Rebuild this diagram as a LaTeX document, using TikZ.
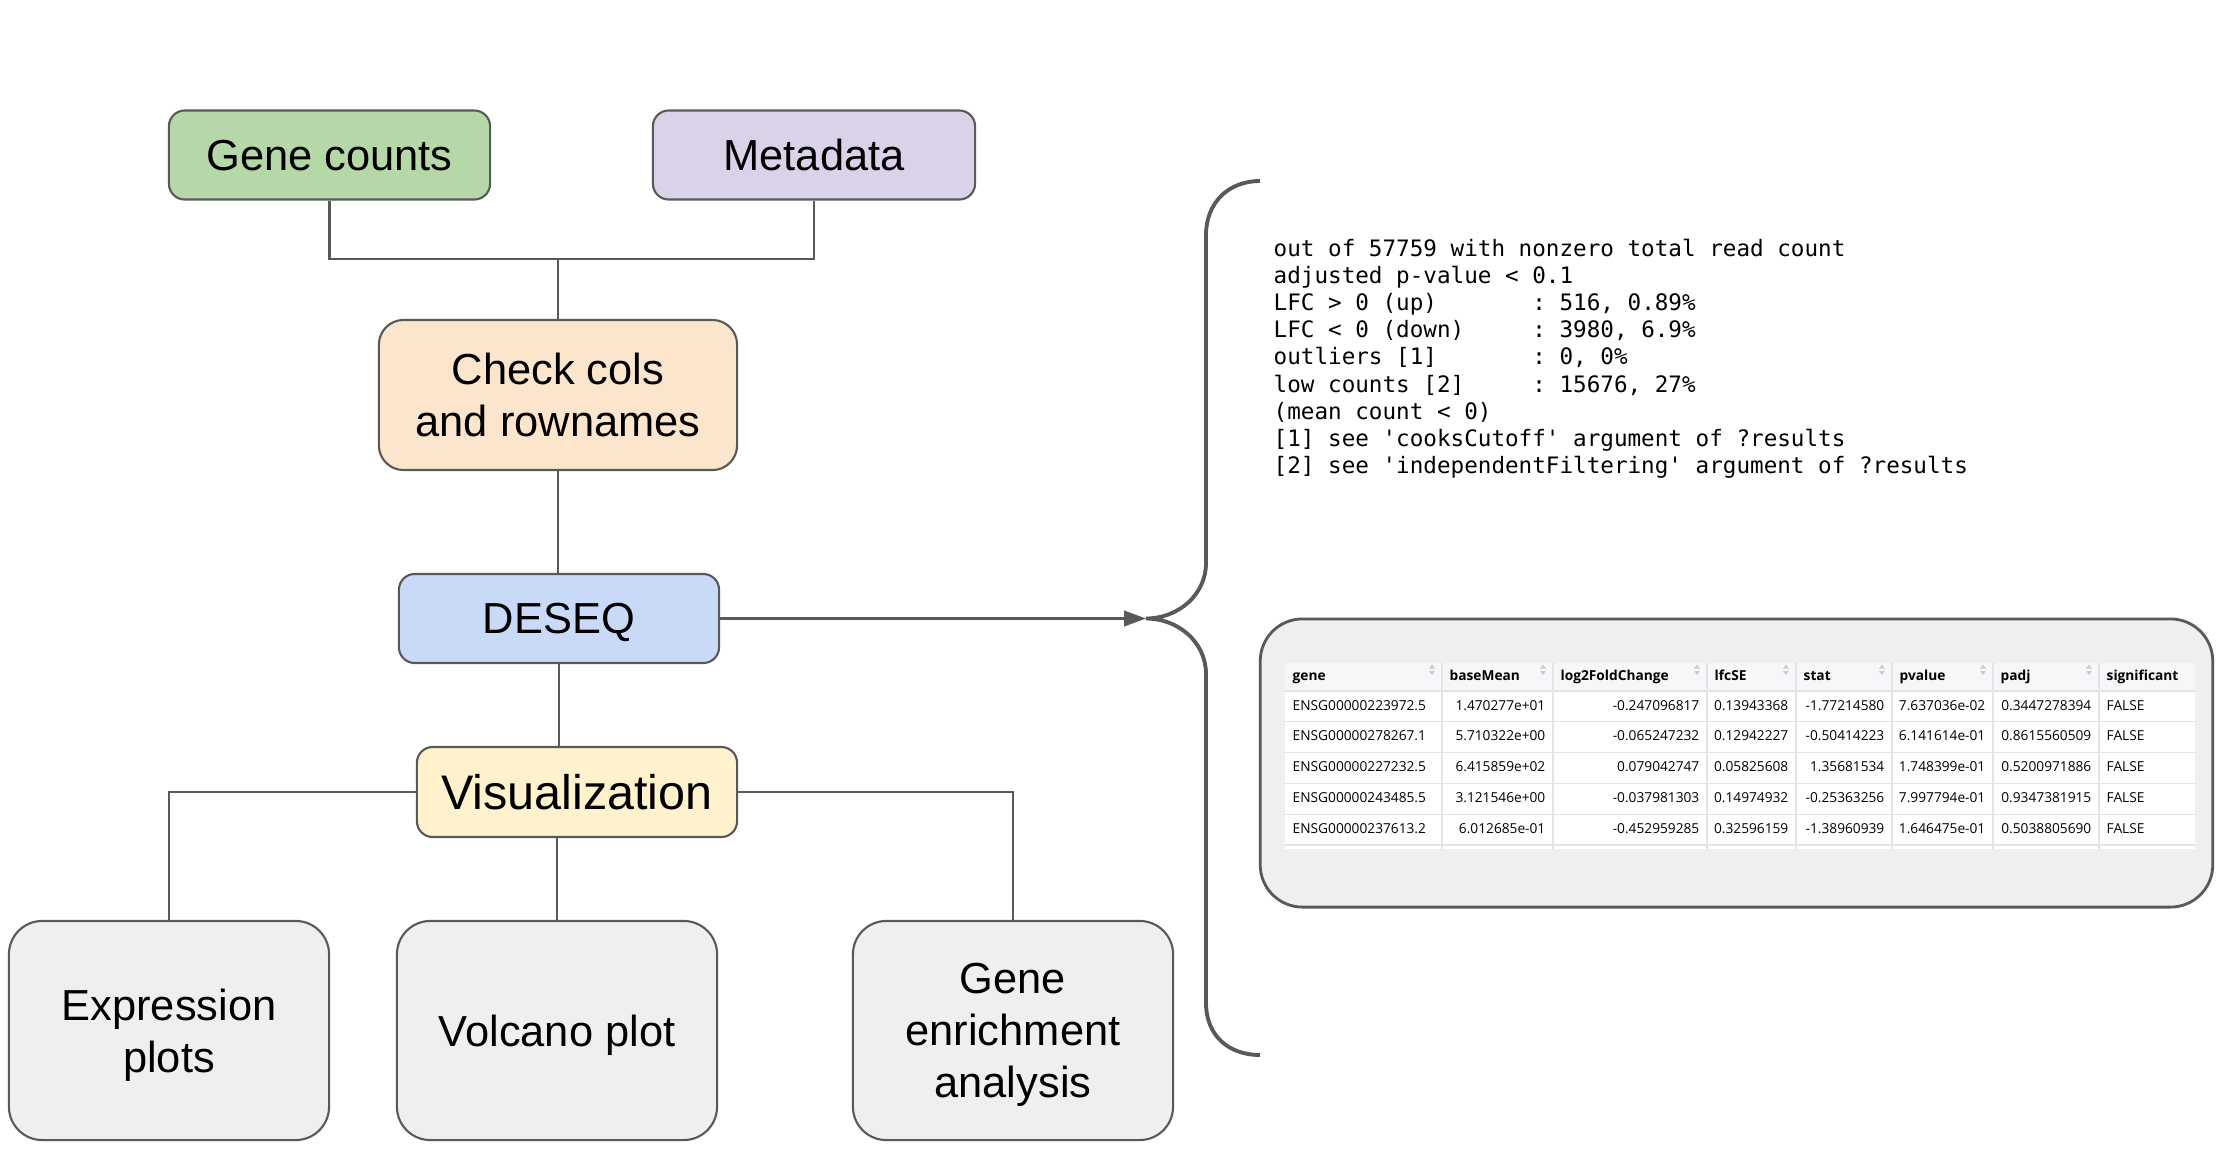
\documentclass[tikz,border=0pt]{standalone}
\usepackage{fontspec}
\setmainfont{Liberation Sans}
\setmonofont{DejaVu Sans Mono}
\newfontfamily\tablefont{Open Sans}
\usetikzlibrary{arrows.meta}

\definecolor{linegray}{HTML}{595959}
\definecolor{fillgreen}{HTML}{B6D7A8}
\definecolor{fillpurple}{HTML}{D9D2E9}
\definecolor{fillorange}{HTML}{FCE5CD}
\definecolor{fillblue}{HTML}{C9DAF8}
\definecolor{fillyellow}{HTML}{FFF2CC}
\definecolor{fillgray}{HTML}{EFEFEF}
\definecolor{gridgray}{HTML}{E2E4E7}
\definecolor{headgray}{HTML}{F6F7F9}
\definecolor{sortgray}{HTML}{C9CCD1}

\begin{document}
\begin{tikzpicture}[x=0.01cm, y=-0.01cm]
  % -----------------------------
  % SETTINGS (pixel grid, y down)
  % -----------------------------
  \def\pad{7}       % cell padding
  \def\rowh{30.8}   % table row height
  \def\tabtop{663}
  \def\headbot{691}
  \def\tabbot{849}
  \def\colL{{1285,1442,1553,1707,1796,1892,1993,2099}}
  \def\colR{{1442,1553,1707,1796,1892,1993,2099,2195}}

  % -----------------------------
  % STYLES
  % -----------------------------
  \tikzset{
    box/.style={draw=linegray, line width=0.6pt, rounded corners=4.5pt, align=center,
      inner sep=0pt, minimum width=3.2cm, minimum height=0.89cm, text depth=0pt,
      font=\fontsize{12.35}{14.8}\selectfont},
    bigbox/.style={box, rounded corners=9.5pt, minimum height=2.19cm},
    conn/.style={draw=linegray, line width=0.6pt},
    brace/.style={draw=linegray, line width=1.1pt},
    summ/.style={font=\ttfamily\frenchspacing\fontsize{6.43}{7.74}\selectfont,
      align=left, inner sep=0pt},
    cell/.style={font=\tablefont\fontsize{3.9}{4.6}\selectfont, inner sep=0pt,
      text height=2.9pt, text depth=0.8pt},
    head/.style={cell, font=\tablefont\bfseries\fontsize{3.9}{4.6}\selectfont},
    grid/.style={draw=gridgray, line width=0.35pt},
  }

  \useasboundingbox (0,0) rectangle (2232,1166);

  % -----------------------------
  % FLOW BOXES
  % -----------------------------
  \node[box, fill=fillgreen, minimum width=3.21cm] (genecounts) at (329.5,155) {Gene counts};
  \node[box, fill=fillpurple, minimum width=3.22cm] (metadata) at (814,155) {Metadata};
  \node[box, fill=fillorange, rounded corners=7pt, minimum width=3.58cm,
        minimum height=1.5cm] (check) at (558,395) {Check cols\\and rownames};
  \node[box, fill=fillblue] (deseq) at (559,618.5) {DESEQ};
  \node[box, fill=fillyellow, minimum height=0.9cm,
        font=\fontsize{13.8}{16}\selectfont] (vis) at (577,792) {Visualization};

  \node[bigbox, fill=fillgray] (expr) at (169,1030.5) {Expression\\plots};
  \node[bigbox, fill=fillgray] (volcano) at (557,1030.5) {Volcano plot};
  \node[bigbox, fill=fillgray] (enrich) at (1013,1030.5) {Gene\\enrichment\\analysis};

  % -----------------------------
  % CONNECTORS
  % -----------------------------
  \coordinate (join) at (558,259);
  \coordinate (tip) at (1146,618.5);

  \draw[conn] (genecounts.south) |- (join) -| (metadata.south);
  \draw[conn] (join) -- (join |- check.north);
  \draw[conn] (check.south) -- (check.south |- deseq.north);
  \draw[conn] (deseq.south) -- (deseq.south |- vis.north);
  \draw[conn] (vis.west) -| (expr.north);
  \draw[conn] (vis.south -| volcano.north) -- (volcano.north);
  \draw[conn] (vis.east) -| (enrich.north);
  \draw[conn, -{Triangle[length=6.2pt, width=4.4pt]}] (deseq.east) -- (tip);

  % -----------------------------
  % BRACE
  % -----------------------------
  \draw[brace] (1260,181) .. controls (1228,181) and (1206,203) .. (1206,235)
    -- (1206,563) .. controls (1206,595) and (1178,618.5) .. (tip)
    .. controls (1178,618.5) and (1206,642) .. (1206,674)
    -- (1206,1003) .. controls (1206,1035) and (1228,1055) .. (1260,1055);

  % -----------------------------
  % RESULTS SUMMARY
  % -----------------------------
  \node[summ, anchor=north west] (summary) at (1273,238) {%
    out of 57759 with nonzero total read count\\
    adjusted p-value < 0.1\\
    LFC > 0 (up)~~~~~~~: 516, 0.89\%\\
    LFC < 0 (down)~~~~~: 3980, 6.9\%\\
    outliers [1]~~~~~~~: 0, 0\%\\
    low counts [2]~~~~~: 15676, 27\%\\
    (mean count < 0)\\
    {[1]} see 'cooksCutoff' argument of ?results\\
    {[2]} see 'independentFiltering' argument of ?results};

  % -----------------------------
  % RESULTS TABLE
  % -----------------------------
  \node[draw=linegray, line width=0.8pt, fill=fillgray, rounded corners=12pt,
        minimum width=9.52cm, minimum height=2.88cm, inner sep=0pt]
        (resbox) at (1736.5,763) {};

  \fill[headgray] (1285,\tabtop) rectangle (2195,\headbot);
  \fill[white] (1285,\headbot) rectangle (2195,\tabbot);
  \foreach \k in {0,...,5}
    \draw[grid] (1285,{\headbot+\k*\rowh}) -- (2195,{\headbot+\k*\rowh});
  \foreach \xx in {1442,1553,1707,1796,1892,1993,2099}
    \draw[grid] (\xx,\tabtop) -- (\xx,\tabbot);

  % header + sort marks
  \foreach \hd [count=\ci] in {gene,baseMean,log2FoldChange,lfcSE,stat,pvalue,padj,significant} {
    \pgfmathsetmacro{\xl}{\colL[\ci-1]}
    \pgfmathsetmacro{\xr}{\colR[\ci-1]}
    \node[head, anchor=west] (h\ci) at (\xl+\pad,677) {\hd};
    \ifnum\ci<8
      \fill[sortgray] (\xr-13,668.5) -- (\xr-10,664.5) -- (\xr-7,668.5) -- cycle;
      \fill[sortgray] (\xr-13,671) -- (\xr-10,675) -- (\xr-7,671) -- cycle;
    \fi
  }

  % rows
  \foreach \vals [count=\ri] in {
    {ENSG00000223972.5,1.470277e+01,-0.247096817,0.13943368,-1.77214580,7.637036e-02,0.3447278394,FALSE},
    {ENSG00000278267.1,5.710322e+00,-0.065247232,0.12942227,-0.50414223,6.141614e-01,0.8615560509,FALSE},
    {ENSG00000227232.5,6.415859e+02,0.079042747,0.05825608,1.35681534,1.748399e-01,0.5200971886,FALSE},
    {ENSG00000243485.5,3.121546e+00,-0.037981303,0.14974932,-0.25363256,7.997794e-01,0.9347381915,FALSE},
    {ENSG00000237613.2,6.012685e-01,-0.452959285,0.32596159,-1.38960939,1.646475e-01,0.5038805690,FALSE}} {
    \pgfmathsetmacro{\yc}{\headbot+\rowh*(\ri-0.5)}
    \foreach \v [count=\ci] in \vals {
      \pgfmathsetmacro{\xl}{\colL[\ci-1]}
      \pgfmathsetmacro{\xr}{\colR[\ci-1]}
      \pgfmathtruncatemacro{\isL}{(\ci==1) || (\ci==8)}
      \ifnum\isL=1
        \node[cell, anchor=west] (t\ri-\ci) at (\xl+\pad,\yc) {\v};
      \else
        \node[cell, anchor=east] (t\ri-\ci) at (\xr-\pad,\yc) {\v};
      \fi
    }
  }
\end{tikzpicture}
\end{document}
